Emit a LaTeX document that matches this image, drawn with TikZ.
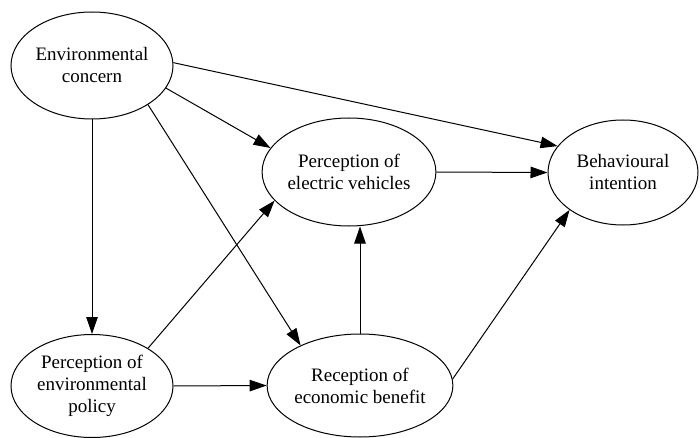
\documentclass[tikz,border=0pt]{standalone}
\usepackage{fontspec}
\setmainfont{Liberation Serif}
\usetikzlibrary{shapes.geometric,arrows.meta}
\begin{document}
\begin{tikzpicture}[x=1pt,y=-1pt,
  ell/.style={draw, ellipse, line width=1pt, inner sep=0pt, align=center,
    font=\fontsize{19}{22}\selectfont, minimum width=#1},
  conn/.style={line width=1pt, -{Triangle[length=17pt,width=11.5pt]}}]
\useasboundingbox (0,0) rectangle (700,438);
\node[ell=162pt, minimum height=107pt] (EC) at (92,65.5) {Environmental\\concern};
\node[ell=162pt, minimum height=108pt] (PEV) at (349,172) {Perception of\\electric vehicles};
\node[ell=150pt, minimum height=105pt] (BI) at (623,172.5) {Behavioural\\intention};
\node[ell=162pt, minimum height=103pt] (PEP) at (92,386) {Perception of\\environmental\\policy};
\node[ell=164pt, minimum height=103pt] (REB) at (360,385.5) {Reception of\\economic benefit};
\draw[conn] (EC.2.5) -- (BI.158.9);
\draw[conn] (EC.-17.1) -- (PEV.163.4);
\draw[conn] (EC.-35.7) -- (REB.146);
\draw[conn] (EC.south) -- (PEP.north);
\draw[conn] (PEP.34.2) -- (PEV.201.3);
\draw[conn] (PEP.east) -- (REB.west);
\draw[conn] (REB.north) -- (REB.north |- PEV.south);
\draw[conn] (PEV.east) -- (BI.west);
\draw[conn] (REB.4) -- (BI.215.2);
\end{tikzpicture}
\end{document}
